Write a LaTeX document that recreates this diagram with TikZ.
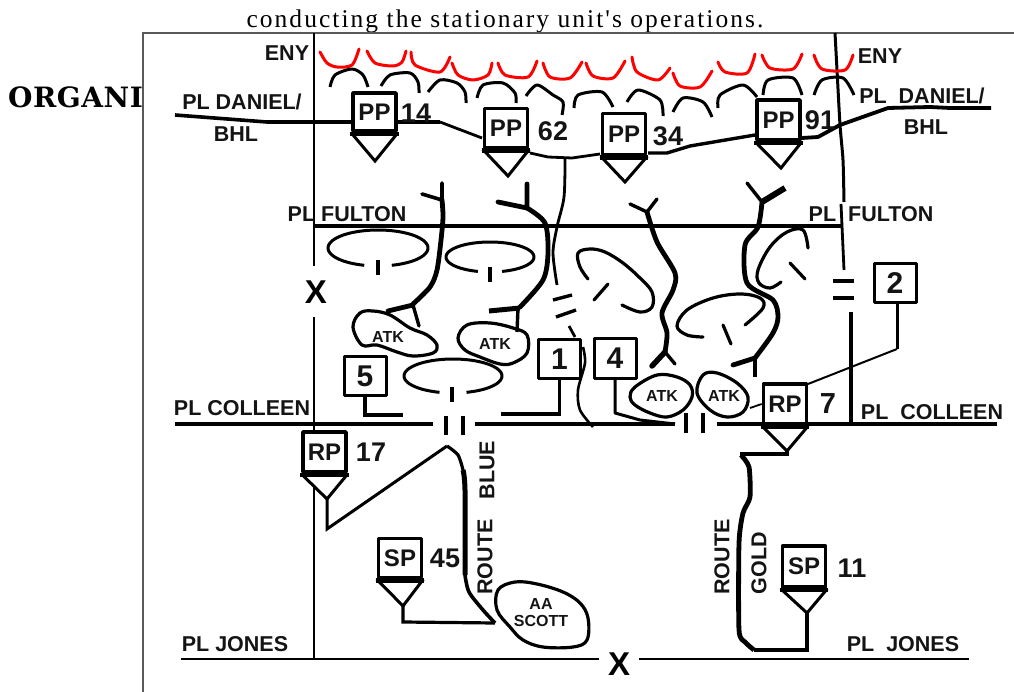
\documentclass[tikz,border=0pt]{standalone}
\usepackage{fontspec}
\setmainfont{Liberation Sans}
\newfontfamily\titlefont[LetterSpace=8]{Liberation Serif}
\newfontfamily\headfont[LetterSpace=2]{DejaVu Serif}
\usetikzlibrary{calc}
\tikzset{
  lab/.style={font=\bfseries\fontsize{21.5}{24}\selectfont,inner sep=0pt,text=black!92},
  num/.style={font=\bfseries\fontsize{27}{30}\selectfont,inner sep=0pt,text=black!92},
  bignum/.style={font=\bfseries\fontsize{29}{32}\selectfont,inner sep=0pt,text=black!92},
  bigx/.style={font=\bfseries\fontsize{33}{36}\selectfont,inner sep=0pt},
  small/.style={font=\bfseries\fontsize{16}{19}\selectfont,inner sep=0pt,align=center,text=black!92},
  ubox/.style={draw,line width=3.6pt,fill=white,minimum width=43pt,minimum height=38pt,inner sep=0pt,
     font=\bfseries\fontsize{24}{26}\selectfont,text=black!92,line join=round},
  ibox/.style={draw,line width=3pt,fill=white,minimum width=42pt,minimum height=39pt,inner sep=0pt,
     font=\bfseries\fontsize{30}{32}\selectfont,text=black!92,line join=round},
  tri/.style={line width=3pt,line join=miter},
  base/.style={line width=4.5pt},
  ink/.style={line width=3.2pt,line cap=round,line join=round},
  cup/.style={red,line width=3pt,line cap=round,line join=round},
  arcb/.style={black,line width=3pt,line cap=butt,line join=round},
  thick route/.style={line width=4.8pt,line cap=round,line join=round},
  road/.style={line width=3.6pt},
  blob/.style={line width=3.2pt,line join=round},
}
\newcommand{\gapell}[4]{\draw[line width=3pt] plot[domain=106:434,samples=70,smooth] ({#1+#3*cos(\x)},{#2+#4*sin(\x)});}
\begin{document}
\begin{tikzpicture}[x=1pt,y=-1pt]
\useasboundingbox (0,0) rectangle (1014,692);
% page text
\begin{scope}
\clip (0,0) rectangle (1014,32);
\node[font=\titlefont\fontsize{25.5}{28}\selectfont,inner sep=0pt,anchor=base] (title) at (505,28) {conducting the stationary unit's operations.};
\end{scope}
\begin{scope}
\clip (0,60) rectangle (143,130);
\node[font=\headfont\bfseries\fontsize{28}{32}\selectfont,inner sep=0pt,anchor=base west] (head) at (8,108) {ORGANI};
\end{scope}
\draw[black!65,line width=1.6pt] (143,692) -- (143,33) -- (1014,33);
% verticals
\coordinate (vlt) at (314,33); \coordinate (vlb) at (314,266);
\coordinate (vlc) at (314,317); \coordinate (vld) at (314,432);
\coordinate (vle) at (314,487); \coordinate (vlf) at (314,659);
\draw[line width=2pt] (vlt)--(vlb) (vlc)--(vld) (vle)--(vlf);
\coordinate (vra) at (835,33);
\draw[line width=3pt] plot[smooth,tension=.4] coordinates {(vra) (837,70) (840,125) (843,160) (844,202)};
\draw[line width=2.8pt] (841,204) -- (842,226) -- (844,270);
\draw[line width=3.6pt] (833,281)--(854,281) (833,298)--(854,298);
\coordinate (vrb) at (851,312); \coordinate (vrc) at (851,424);
\draw[line width=3.4pt] (vrb)--(vrc);
% horizontals
\coordinate (fa) at (314,226); \coordinate (fb) at (842,226);
\draw[road] (fa)--(fb);
\coordinate (ca) at (175,424); \coordinate (cb) at (433,424); \coordinate (cc) at (475,424);
\coordinate (cd) at (675,424); \coordinate (ce) at (717,424); \coordinate (cf) at (997,424);
\draw[line width=4pt] (ca)--(cb) (cc)--(cd) (ce)--(cf);
\draw[line width=4pt] (446,416)--(446,435) (463,416)--(463,435) (686,413)--(686,433) (703,413)--(703,433);
\coordinate (ja) at (181,659); \coordinate (jb) at (599,659); \coordinate (jc) at (639,659); \coordinate (jd) at (969,659);
\draw[line width=2.6pt] (ja)--(jb) (jc)--(jd);
% Daniel line
\coordinate (da) at (175,115); \coordinate (db) at (991,108);
\draw[line width=3.6pt,line join=round] (da) -- (267,122) -- (351,122);
\draw[line width=3.6pt] (397,122) -- (440,122);
\draw[line width=2.8pt] (440,122) -- (482,138);
\draw[line width=2.8pt] (530,153) -- (548,157) -- (572,158) -- (600,154);
\draw[line width=3.4pt,line join=round] (648,153) -- (667,153) -- (690,146) -- (755,135);
\draw[line width=3.8pt,line join=round] (802,138) -- (818,137) -- (840,125) -- (888,108) -- (930,107) -- (950,108) -- (db);
% boxes
\node[ubox] (pp14) at (374.5,112) {PP};
\node[ubox,minimum height=39pt] (pp62) at (506,128) {PP};
\node[ubox,minimum height=41pt] (pp34) at (624,134) {PP};
\node[ubox,minimum height=40pt] (pp91) at (778.5,120) {PP};
\node[ubox,minimum height=40pt] (rp17) at (324.5,452) {RP};
\node[ubox,minimum height=40pt] (rp7) at (785,404) {RP};
\node[ubox,minimum height=39pt] (sp45) at (400,558) {SP};
\node[ubox,minimum height=41pt] (sp11) at (804,566.5) {SP};
\coordinate (a14) at (375,161); \coordinate (a62) at (508,176); \coordinate (a34) at (625,182);
\coordinate (a91) at (781,168); \coordinate (a17) at (327,499); \coordinate (a7) at (787,451);
\coordinate (a45) at (403,606); \coordinate (a11) at (807,613);
\foreach \b/\a in {pp14/a14,pp62/a62,pp34/a34,pp91/a91,rp17/a17,rp7/a7,sp45/a45,sp11/a11}{
  \draw[tri] (\b.south west) -- (\a) -- (\b.south east);
  \draw[base] ($(\b.south west)+(-1,1)$) -- ($(\b.south east)+(1,1)$);
}
\draw[line width=3.8pt] (rp7.south west)--(rp7.south east);
% numbered boxes
\node[ibox] (n5) at (365,376) {5};
\node[ibox] (n1) at (559.5,359) {1};
\node[ibox] (n4) at (615,358.5) {4};
\node[ibox] (n2) at (895,283) {2};
\coordinate (n5e) at (403,415); \coordinate (n1e) at (501,414);
\draw[line width=3.4pt,line join=miter] (n5.south) -- (n5.south |- n5e) -- (n5e);
\draw[line width=3.4pt,line join=miter] (n1.south) -- (n1.south |- n1e) -- (n1e);
\draw[line width=3pt,line join=round] (n4.south) -- (615,413) -- (640,420) -- (cd);
\coordinate (n2k) at (897,349);
\draw[line width=3pt,line join=miter] (n2.south -| n2k) -- (n2k);
\draw[line width=2pt] (n2k) -- (808,384);
\coordinate (rpt) at (750,408);
\draw[line width=1.8pt] (rpt) -- (rp7.west);
% number labels
\node[num] (l14) at (416,113) {14};
\node[num] (l62) at (553,131) {62};
\node[num] (l34) at (668,136) {34};
\node[num] (l91) at (820,120) {91};
\node[num] (l17) at (371,452) {17};
\node[num] (l45) at (445,558) {45};
\node[num] (l11) at (852,568) {11};
\node[bignum] (l7) at (828,404) {7};
% text labels
\node[lab] (eny1) at (287,53) {ENY};
\node[lab] (eny2) at (880,56) {ENY};
\node[lab] (d1) at (242,102) {PL DANIEL/};
\node[lab] (b1) at (236,134) {BHL};
\node[lab] (d2) at (922,96) {PL\ \ DANIEL/};
\node[lab] (b2) at (926,127) {BHL};
\node[lab] (f1) at (347,214) {PL FULTON};
\node[lab] (f2) at (871,214) {PL\ \ FULTON};
\node[lab] (c1) at (242,408) {PL COLLEEN};
\node[lab] (c2) at (932,412) {PL\ \ COLLEEN};
\node[lab] (j1) at (235,644) {PL JONES};
\node[lab] (j2) at (903,644) {PL\ \ JONES};
\node[bigx] (x1) at (316,292) {X};
\node[bigx] (x2) at (619,664) {X};
\node[lab,rotate=90] (rb1) at (485,557) {ROUTE};
\node[lab,rotate=90] (rb2) at (487,470) {BLUE};
\node[lab,rotate=90] (rg1) at (722,557) {ROUTE};
\node[lab,rotate=90] (rg2) at (759,563) {GOLD};
% ellipses
\gapell{378}{248}{50}{18}
\gapell{490}{257}{44}{15}
\gapell{453}{376}{49}{17}
\draw[line width=3.2pt] (378,260)--(378,275) (490,267)--(490,282) (452,387)--(452,402);
% hand-drawn loops
\draw[ink] plot[smooth,tension=.6] coordinates {(588,279) (580,267) (578,253) (590,249) (605,252) (623,263) (640,278) (652,292) (652,307) (640,312) (622,305)};
\draw[ink] (594,300)--(608,284);
\draw[ink] plot[smooth,tension=.6] coordinates {(703,337) (687,335) (677,326) (687,310) (713,298) (740,294) (760,298) (763,308) (745,325)};
\draw[ink] (723,325)--(731,344);
\draw[ink] plot[smooth,tension=.6] coordinates {(781,282) (770,288) (759,283) (758,270) (770,247) (787,232) (803,230) (808,248)};
\draw[ink] (790,263)--(805,279);
% blobs
\draw[blob] plot[smooth cycle,tension=.6] coordinates {(353,327) (360,313) (373,311) (390,315) (410,328) (427,335) (437,345) (433,353) (413,356) (397,352) (377,345) (362,345)};
\draw[blob] plot[smooth cycle,tension=.6] coordinates {(458,338) (467,325) (490,323) (513,328) (527,335) (527,353) (513,363) (500,364) (480,357) (465,350)};
\draw[blob] plot[smooth cycle,tension=.6] coordinates {(630,397) (635,387) (657,375) (677,377) (690,385) (692,397) (683,410) (667,417) (650,413) (635,405)};
\draw[blob] plot[smooth cycle,tension=.6] coordinates {(697,393) (703,375) (717,373) (737,383) (748,397) (743,412) (727,417) (710,410)};
\draw[blob] plot[smooth cycle,tension=.6] coordinates {(498,590) (515,582) (537,584) (563,592) (580,603) (588,618) (587,640) (573,647) (543,647) (523,640) (510,627) (497,610)};
\node[small] (atk1) at (388,337) {ATK};
\node[small] (atk2) at (495,344) {ATK};
\node[small] (atk3) at (662,396) {ATK};
\node[small] (atk4) at (724,396) {ATK};
\node[small,fill=none] (aa) at (541,612.5) {AA\\[-1.5pt]SCOTT};
% route squiggles with Y ends
\draw[thick route] plot[smooth,tension=.5] coordinates {(442,200) (443,217) (441,240) (437,270) (430,287) (413,304)};
\draw[thick route,line width=3.6pt] (442,183)--(442,200) (422,194)--(442,200);
\draw[thick route] (388,311)--(413,305);
\draw[thick route,line width=3.4pt] (413,305)--(419,326);
\draw[thick route] plot[smooth,tension=.5] coordinates {(527,208) (545,223) (548,253) (543,280) (520,307)};
\draw[thick route] (527,184)--(527,208) (498,202)--(527,208);
\draw[line width=5pt] (489,311)--(520,308);
\draw[line width=3.4pt] (518,308)--(517,332);
% thin route
\draw[line width=2.8pt] plot[smooth,tension=.5] coordinates {(565,158) (564,197) (557,227) (553,253) (557,285)};
\draw[line width=3.4pt] (553,300)--(572,295) (556,317)--(576,310);
\draw[line width=2.8pt] (569,326)--(575,337);
\draw[line width=2.6pt] plot[smooth,tension=.5] coordinates {(583,347) (585,363) (578,390) (580,410) (593,427)};
% third route
\draw[thick route] plot[smooth,tension=.5] coordinates {(647,212) (657,242) (675,273) (673,290) (662,313) (667,333) (665,352)};
\draw[thick route,line width=3.4pt] (630,204)--(647,212)--(657,199);
\draw[thick route,line width=5.5pt] (652,366)--(665,352);
\draw[thick route,line width=3.4pt] (665,352)--(675,364);
% fourth route
\draw[thick route] plot[smooth,tension=.5] coordinates {(762,202) (758,227) (745,245) (747,283) (773,300) (778,317) (773,333) (755,358)};
\draw[thick route,line width=3.4pt] (747,183)--(762,202);
\draw[thick route,line width=6pt,line cap=butt] (785,188)--(762,202);
\draw[thick route] (733,365)--(755,358);
\draw[line width=3.4pt] (755,358)--(755,377);
% blue route
\coordinate (bb) at (495,623);
\draw[line width=3pt,line join=miter] (a17)--(327,529)--(447,446);
\draw[line width=3.2pt] plot[smooth,tension=.5] coordinates {(447,446) (458,455) (463,470)};
\draw[line width=5pt] plot[smooth,tension=.5] coordinates {(463,470) (465,490) (465,575)};
\draw[line width=3.6pt] plot[smooth,tension=.5] coordinates {(465,575) (469,592) (483,610) (bb)};
\draw[line width=3.2pt,line join=miter] (bb)--(403,622)--(a45);
% gold route
\coordinate (gt) at (740,454);
\draw[line width=3.6pt] (a7)--(787,454)--(gt);
\draw[line width=4.8pt,line join=round] plot[smooth,tension=.4] coordinates {(741,455) (749,467) (750,497) (743,513) (739,543) (739,630) (745,642) (754,650)};
\draw[line width=3.4pt,line join=miter] (754,650)--(807,650)--(a11);
% red cups
\foreach \p in {
 {(320,52) (327,63) (337,67) (352,65) (359,49)},
 {(367,51) (375,63) (393,66) (402,62) (406,51)},
 {(411,52) (415,65) (440,72) (450,57)},
 {(452,63) (458,75) (473,80) (488,75) (492,63)},
 {(498,63) (505,75) (528,77) (537,61)},
 {(543,63) (550,77) (570,78) (582,62)},
 {(586,63) (593,76) (613,78) (625,61)},
 {(632,57) (637,72) (658,80) (670,68)},
 {(673,73) (680,86) (700,87) (712,71)},
 {(718,62) (725,72) (747,73) (755,54)},
 {(762,55) (770,68) (793,69) (802,54)},
 {(814,55) (822,69) (845,70) (853,55)}}{
  \draw[cup] plot[smooth,tension=.5] coordinates \p;
}
% black arcs
\foreach \p in {
 {(330,87) (335,75) (352,69) (363,75) (368,87)},
 {(381,86) (390,75) (410,73) (418,82) (419,93)},
 {(428,92) (440,80) (457,83) (465,92) (466,103)},
 {(477,98) (483,85) (503,83) (515,93) (516,103)},
 {(526,96) (537,85) (553,95) (563,102) (562,115)},
 {(574,108) (578,95) (602,92) (613,107)},
 {(627,102) (638,90) (660,100) (663,116)},
 {(673,112) (683,98) (703,102) (712,117)},
 {(718,108) (720,95) (743,85) (757,97)},
 {(763,95) (768,80) (793,78) (802,95)},
 {(814,95) (822,80) (843,78) (854,95)}}{
  \draw[arcb] plot[smooth,tension=.5] coordinates \p;
}
\end{tikzpicture}
\end{document}
